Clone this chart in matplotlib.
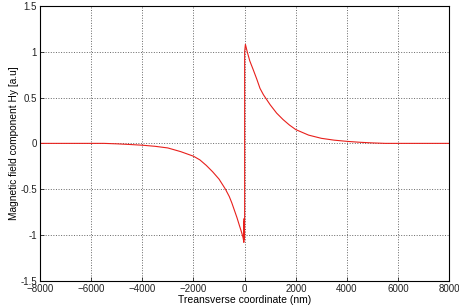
import matplotlib
matplotlib.use("Agg")
import matplotlib.pyplot as plt
import numpy as np

# values
x_nm = [-8000, -6000, -5500, -5000, -4500, -4000, -3500, -3000, -2500, -2000,
        -1750, -1500, -1250, -1000, -750, -600, -500, -400, -300, -200, -120,
        -60, -30, -20, -15, -10, -5, 0, 0, 30, 100, 200, 340, 475, 600, 735,
        1000, 1250, 1500, 1750, 2000, 2500, 3000, 3500, 4000, 4500, 5000,
        5500, 6000, 8000]
hy = [0.0, 0.0, 0.0, -0.005, -0.012, -0.02, -0.032, -0.05, -0.09, -0.14,
      -0.18, -0.24, -0.31, -0.39, -0.5, -0.58, -0.65, -0.73, -0.81, -0.9,
      -0.97, -1.03, -1.08, -0.82, -1.05, -0.85, -1.02, -0.8, 1.0, 1.08, 1.0,
      0.9, 0.8, 0.7, 0.6, 0.53, 0.42, 0.33, 0.26, 0.2, 0.15, 0.09, 0.055,
      0.035, 0.022, 0.012, 0.005, 0.0, 0.0, 0.0]

xticks = np.arange(-8000, 8001, 2000)
yticks = [-1.5, -1, -0.5, 0, 0.5, 1, 1.5]
ytick_labels = ['-1.5', '-1', '-0.5', '0', '0.5', '1', '1.5']

plt.rcParams.update({'font.size': 7, 'font.family': 'Liberation Sans'})
fig = plt.figure(figsize=(4.59, 3.08), dpi=100)
ax = fig.add_axes([0.087, 0.088, 0.892, 0.893])

ax.plot(x_nm, hy, color="#e8201c", linewidth=0.8)

ax.set_xlim(-8000, 8000)
ax.set_ylim(-1.5, 1.5)
ax.set_xticks(xticks)
ax.set_yticks(yticks)
ax.set_yticklabels(ytick_labels)
ax.tick_params(direction='in', length=3, width=0.6, pad=2, colors='#222222')
ax.grid(True, linestyle=':', color='#666666', linewidth=0.7)
for s in ax.spines.values():
    s.set_linewidth(0.8)

ax.set_xlabel('Treansverse coordinate (nm)', fontsize=7.5, labelpad=1)
ax.set_ylabel('Magnetic field component Hy [a.u]', fontsize=7.3, labelpad=1)

fig.savefig('out.png', dpi=100)
